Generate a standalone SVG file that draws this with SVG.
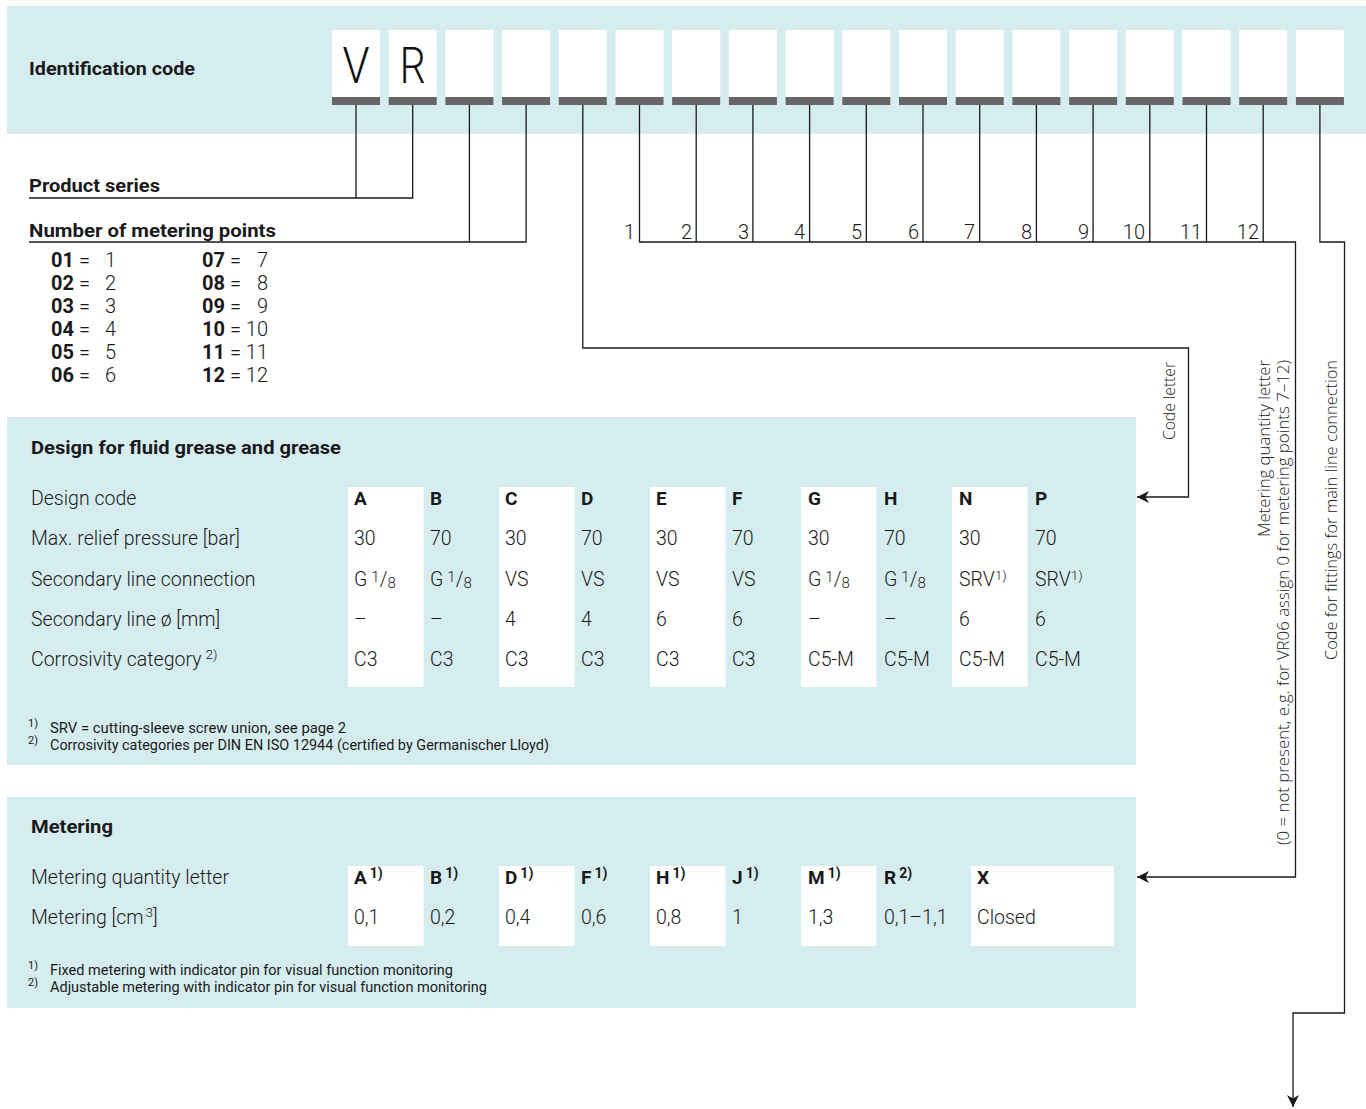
<svg xmlns="http://www.w3.org/2000/svg" width="1366" height="1109" viewBox="0 0 1366 1109">
<defs>
<style>
.band{fill:#d6edf0}
.box{fill:#ffffff}
.bar{fill:#666666}
.ln{stroke:#1a1a1a;stroke-width:1.3;fill:none}
.t{font-family:Roboto,"Liberation Sans",sans-serif;font-size:19.5px;font-weight:300;fill:#1a1a1a}
.b{font-family:Roboto,"Liberation Sans",sans-serif;font-size:19px;font-weight:700;fill:#1a1a1a}
.n{font-family:Roboto,"Liberation Sans",sans-serif;font-size:20px;font-weight:300;fill:#1a1a1a}
.fn{font-family:Roboto,"Liberation Sans",sans-serif;font-size:14px;font-weight:400;fill:#1a1a1a}
.sup{font-size:13.5px}
.v{font-family:"Open Sans","Noto Sans",sans-serif;font-size:15.5px;font-weight:300;fill:#1a1a1a}
.big{font-family:Roboto,"Liberation Sans",sans-serif;font-size:50px;font-weight:300;fill:#111111}
</style>
<marker id="arr" viewBox="-13 -7 14 14" refX="0" refY="0" markerWidth="14" markerHeight="14" markerUnits="userSpaceOnUse" orient="auto">
<path d="M0,0 L-12,-6 L-8.5,0 L-12,6 Z" fill="#1a1a1a"/>
</marker>
</defs>

<g id="header">
<rect class="band" x="7" y="6" width="1359" height="128"/>
<text class="b" x="29" y="75" textLength="166" lengthAdjust="spacingAndGlyphs">Identification code</text>
<g id="code-boxes">
<rect class="box" x="332" y="30" width="48" height="67"/><rect class="bar" x="332" y="97" width="48" height="8"/>
<rect class="box" x="388.7" y="30" width="48" height="67"/><rect class="bar" x="388.7" y="97" width="48" height="8"/>
<rect class="box" x="445.4" y="30" width="48" height="67"/><rect class="bar" x="445.4" y="97" width="48" height="8"/>
<rect class="box" x="502.1" y="30" width="48" height="67"/><rect class="bar" x="502.1" y="97" width="48" height="8"/>
<rect class="box" x="558.8" y="30" width="48" height="67"/><rect class="bar" x="558.8" y="97" width="48" height="8"/>
<rect class="box" x="615.5" y="30" width="48" height="67"/><rect class="bar" x="615.5" y="97" width="48" height="8"/>
<rect class="box" x="672.2" y="30" width="48" height="67"/><rect class="bar" x="672.2" y="97" width="48" height="8"/>
<rect class="box" x="728.9" y="30" width="48" height="67"/><rect class="bar" x="728.9" y="97" width="48" height="8"/>
<rect class="box" x="785.6" y="30" width="48" height="67"/><rect class="bar" x="785.6" y="97" width="48" height="8"/>
<rect class="box" x="842.3" y="30" width="48" height="67"/><rect class="bar" x="842.3" y="97" width="48" height="8"/>
<rect class="box" x="899" y="30" width="48" height="67"/><rect class="bar" x="899" y="97" width="48" height="8"/>
<rect class="box" x="955.7" y="30" width="48" height="67"/><rect class="bar" x="955.7" y="97" width="48" height="8"/>
<rect class="box" x="1012.4" y="30" width="48" height="67"/><rect class="bar" x="1012.4" y="97" width="48" height="8"/>
<rect class="box" x="1069.1" y="30" width="48" height="67"/><rect class="bar" x="1069.1" y="97" width="48" height="8"/>
<rect class="box" x="1125.8" y="30" width="48" height="67"/><rect class="bar" x="1125.8" y="97" width="48" height="8"/>
<rect class="box" x="1182.5" y="30" width="48" height="67"/><rect class="bar" x="1182.5" y="97" width="48" height="8"/>
<rect class="box" x="1239.2" y="30" width="48" height="67"/><rect class="bar" x="1239.2" y="97" width="48" height="8"/>
<rect class="box" x="1295.9" y="30" width="48" height="67"/><rect class="bar" x="1295.9" y="97" width="48" height="8"/>
<text class="big" x="356" y="83" text-anchor="middle" textLength="27" lengthAdjust="spacingAndGlyphs">V</text>
<text class="big" x="412.7" y="83" text-anchor="middle" textLength="26" lengthAdjust="spacingAndGlyphs">R</text>
</g>
</g>

<g id="connectors">
<path class="ln" d="M356,105 V198"/>
<path class="ln" d="M29,198 H412.7 V105"/>
<path class="ln" d="M469.4,105 V242"/>
<path class="ln" d="M29,242 H526.1 V105"/>
<path class="ln" d="M582.8,105 V348 H1188.5 V497 H1137" marker-end="url(#arr)"/>
<path class="ln" d="M696.2,105 V242 M752.9,105 V242 M809.6,105 V242 M866.3,105 V242 M923,105 V242 M979.7,105 V242 M1036.4,105 V242 M1093.1,105 V242 M1149.8,105 V242 M1206.5,105 V242 M1263.2,105 V242"/>
<path class="ln" d="M639.5,105 V242 H1295.5 V877 H1137" marker-end="url(#arr)"/>
<path class="ln" d="M1319.9,105 V242 H1344.5 V1013 H1293 V1107" marker-end="url(#arr)"/>
</g>

<g id="product-series">
<text class="b" x="29" y="192" textLength="131" lengthAdjust="spacingAndGlyphs">Product series</text>
</g>

<g id="number-of-metering-points">
<text class="b" x="29" y="237" textLength="247" lengthAdjust="spacingAndGlyphs">Number of metering points</text>
<g class="n">
<text x="51" y="267"><tspan font-weight="700">01</tspan></text><text x="79" y="267">=</text><text x="116" y="267" text-anchor="end">1</text>
<text x="51" y="290"><tspan font-weight="700">02</tspan></text><text x="79" y="290">=</text><text x="116" y="290" text-anchor="end">2</text>
<text x="51" y="313"><tspan font-weight="700">03</tspan></text><text x="79" y="313">=</text><text x="116" y="313" text-anchor="end">3</text>
<text x="51" y="336"><tspan font-weight="700">04</tspan></text><text x="79" y="336">=</text><text x="116" y="336" text-anchor="end">4</text>
<text x="51" y="359"><tspan font-weight="700">05</tspan></text><text x="79" y="359">=</text><text x="116" y="359" text-anchor="end">5</text>
<text x="51" y="382"><tspan font-weight="700">06</tspan></text><text x="79" y="382">=</text><text x="116" y="382" text-anchor="end">6</text>
<text x="202" y="267"><tspan font-weight="700">07</tspan></text><text x="230" y="267">=</text><text x="268" y="267" text-anchor="end">7</text>
<text x="202" y="290"><tspan font-weight="700">08</tspan></text><text x="230" y="290">=</text><text x="268" y="290" text-anchor="end">8</text>
<text x="202" y="313"><tspan font-weight="700">09</tspan></text><text x="230" y="313">=</text><text x="268" y="313" text-anchor="end">9</text>
<text x="202" y="336"><tspan font-weight="700">10</tspan></text><text x="230" y="336">=</text><text x="268" y="336" text-anchor="end">10</text>
<text x="202" y="359"><tspan font-weight="700">11</tspan></text><text x="230" y="359">=</text><text x="268" y="359" text-anchor="end">11</text>
<text x="202" y="382"><tspan font-weight="700">12</tspan></text><text x="230" y="382">=</text><text x="268" y="382" text-anchor="end">12</text>
</g>
</g>

<g id="metering-point-numbers" class="n" text-anchor="end">
<text x="635" y="239">1</text>
<text x="692" y="239">2</text>
<text x="749" y="239">3</text>
<text x="805" y="239">4</text>
<text x="862" y="239">5</text>
<text x="919" y="239">6</text>
<text x="975" y="239">7</text>
<text x="1032" y="239">8</text>
<text x="1089" y="239">9</text>
<text x="1145" y="239">10</text>
<text x="1202" y="239">11</text>
<text x="1259" y="239">12</text>
</g>

<g id="label-code-letter">
<text class="v" transform="translate(1175,362) rotate(-90)" text-anchor="end" textLength="78" lengthAdjust="spacingAndGlyphs">Code letter</text>
</g>
<g id="label-metering-quantity">
<text class="v" transform="translate(1270,360) rotate(-90)" text-anchor="end" textLength="177" lengthAdjust="spacingAndGlyphs">Metering quantity letter</text>
<text class="v" transform="translate(1289,360) rotate(-90)" text-anchor="end" textLength="485" lengthAdjust="spacingAndGlyphs">(0 = not present, e.g. for VR06 assign 0 for metering points 7–12)</text>
</g>
<g id="label-fittings">
<text class="v" transform="translate(1337,360) rotate(-90)" text-anchor="end" textLength="300" lengthAdjust="spacingAndGlyphs">Code for fittings for main line connection</text>
</g>

<g id="design-table">
<rect class="band" x="7" y="417" width="1129" height="348"/>
<rect class="box" x="348" y="487" width="75.5" height="200"/>
<rect class="box" x="499" y="487" width="75.5" height="200"/>
<rect class="box" x="650" y="487" width="75.5" height="200"/>
<rect class="box" x="801" y="487" width="75.5" height="200"/>
<rect class="box" x="952" y="487" width="75.5" height="200"/>
<text class="b" x="31" y="454" textLength="310" lengthAdjust="spacingAndGlyphs">Design for fluid grease and grease</text>
<g class="t">
<text x="31" y="505">Design code</text>
<text x="31" y="545">Max. relief pressure [bar]</text>
<text x="31" y="586">Secondary line connection</text>
<text x="31" y="626">Secondary line ø [mm]</text>
<text x="31" y="666">Corrosivity category<tspan class="sup" dx="4" dy="-7">2)</tspan></text>
</g>
<g class="b">
<text x="354" y="505">A</text><text x="430" y="505">B</text><text x="505" y="505">C</text><text x="581" y="505">D</text><text x="656" y="505">E</text>
<text x="732" y="505">F</text><text x="808" y="505">G</text><text x="884" y="505">H</text><text x="959" y="505">N</text><text x="1035" y="505">P</text>
</g>
<g class="t">
<text x="354" y="545">30</text><text x="430" y="545">70</text><text x="505" y="545">30</text><text x="581" y="545">70</text><text x="656" y="545">30</text>
<text x="732" y="545">70</text><text x="808" y="545">30</text><text x="884" y="545">70</text><text x="959" y="545">30</text><text x="1035" y="545">70</text>
<text x="354" y="586">G<tspan font-size="15" dx="4" dy="-4">1</tspan><tspan dy="4">/</tspan><tspan font-size="15" dy="2">8</tspan></text>
<text x="430" y="586">G<tspan font-size="15" dx="4" dy="-4">1</tspan><tspan dy="4">/</tspan><tspan font-size="15" dy="2">8</tspan></text>
<text x="505" y="586">VS</text><text x="581" y="586">VS</text><text x="656" y="586">VS</text><text x="732" y="586">VS</text>
<text x="808" y="586">G<tspan font-size="15" dx="4" dy="-4">1</tspan><tspan dy="4">/</tspan><tspan font-size="15" dy="2">8</tspan></text>
<text x="884" y="586">G<tspan font-size="15" dx="4" dy="-4">1</tspan><tspan dy="4">/</tspan><tspan font-size="15" dy="2">8</tspan></text>
<text x="959" y="586">SRV<tspan class="sup" dy="-6">1)</tspan></text>
<text x="1035" y="586">SRV<tspan class="sup" dy="-6">1)</tspan></text>
<text x="354" y="626">–</text><text x="430" y="626">–</text><text x="505" y="626">4</text><text x="581" y="626">4</text><text x="656" y="626">6</text>
<text x="732" y="626">6</text><text x="808" y="626">–</text><text x="884" y="626">–</text><text x="959" y="626">6</text><text x="1035" y="626">6</text>
<text x="354" y="666">C3</text><text x="430" y="666">C3</text><text x="505" y="666">C3</text><text x="581" y="666">C3</text><text x="656" y="666">C3</text>
<text x="732" y="666">C3</text><text x="808" y="666">C5-M</text><text x="884" y="666">C5-M</text><text x="959" y="666">C5-M</text><text x="1035" y="666">C5-M</text>
</g>
<g class="fn">
<text x="28" y="727" font-size="11">1)</text>
<text x="50" y="733" textLength="296" lengthAdjust="spacingAndGlyphs">SRV = cutting-sleeve screw union, see  page 2</text>
<text x="28" y="744" font-size="11">2)</text>
<text x="50" y="750" textLength="499" lengthAdjust="spacingAndGlyphs">Corrosivity categories per DIN EN ISO 12944 (certified by Germanischer Lloyd)</text>
</g>
</g>

<g id="metering-table">
<rect class="band" x="7" y="797" width="1129" height="211"/>
<rect class="box" x="348" y="866" width="75.5" height="80"/>
<rect class="box" x="499" y="866" width="75.5" height="80"/>
<rect class="box" x="650" y="866" width="75.5" height="80"/>
<rect class="box" x="801" y="866" width="75.5" height="80"/>
<rect class="box" x="971" y="866" width="142.5" height="80"/>
<text class="b" x="31" y="833" textLength="82" lengthAdjust="spacingAndGlyphs">Metering</text>
<g class="t">
<text x="31" y="884">Metering quantity letter</text>
<text x="31" y="924">Metering [cm<tspan class="sup" dx="2" dy="-7">3</tspan><tspan dy="7">]</tspan></text>
</g>
<g class="b">
<text x="354" y="884">A<tspan font-size="14" dx="3" dy="-6">1)</tspan></text>
<text x="430" y="884">B<tspan font-size="14" dx="3" dy="-6">1)</tspan></text>
<text x="505" y="884">D<tspan font-size="14" dx="3" dy="-6">1)</tspan></text>
<text x="581" y="884">F<tspan font-size="14" dx="3" dy="-6">1)</tspan></text>
<text x="656" y="884">H<tspan font-size="14" dx="3" dy="-6">1)</tspan></text>
<text x="732" y="884">J<tspan font-size="14" dx="3" dy="-6">1)</tspan></text>
<text x="808" y="884">M<tspan font-size="14" dx="3" dy="-6">1)</tspan></text>
<text x="884" y="884">R<tspan font-size="14" dx="3" dy="-6">2)</tspan></text>
<text x="977" y="884">X</text>
</g>
<g class="t">
<text x="354" y="924">0,1</text><text x="430" y="924">0,2</text><text x="505" y="924">0,4</text><text x="581" y="924">0,6</text><text x="656" y="924">0,8</text>
<text x="732" y="924">1</text><text x="808" y="924">1,3</text><text x="884" y="924">0,1–1,1</text><text x="977" y="924">Closed</text>
</g>
<g class="fn">
<text x="28" y="969" font-size="11">1)</text>
<text x="50" y="975" textLength="403" lengthAdjust="spacingAndGlyphs">Fixed metering with indicator pin for visual function monitoring</text>
<text x="28" y="986" font-size="11">2)</text>
<text x="50" y="992" textLength="437" lengthAdjust="spacingAndGlyphs">Adjustable metering with indicator pin for visual function monitoring</text>
</g>
</g>
</svg>
